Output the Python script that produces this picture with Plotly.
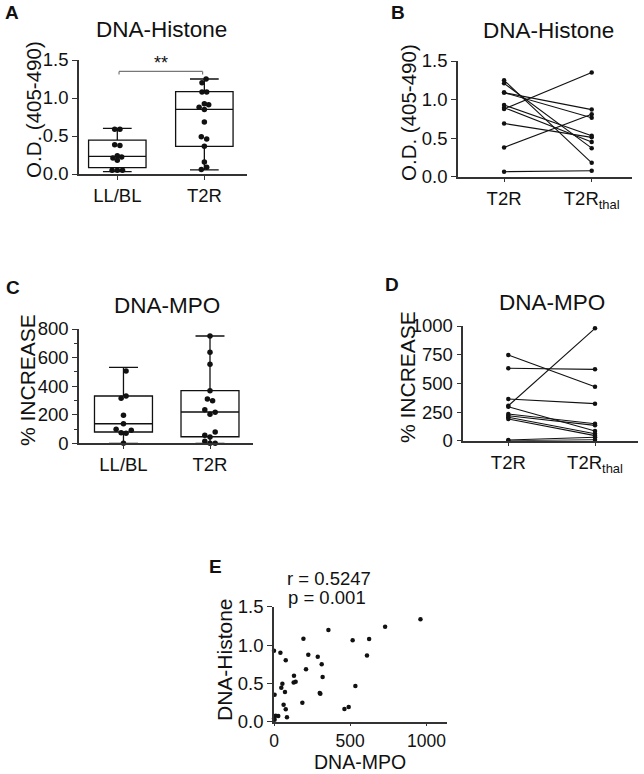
import plotly.graph_objects as go

# ---------------- data ----------------
groups_A = ["LL/BL", "T2R"]
A_llbl = [0.59, 0.59, 0.385, 0.375, 0.24, 0.225, 0.21, 0.18, 0.05, 0.05, 0.05]
A_t2r = [1.25, 1.20, 1.08, 1.08, 0.925, 0.91, 0.877, 0.85, 0.684, 0.49, 0.46, 0.364, 0.158, 0.088, 0.06]
A_q1 = [0.083, 0.364]
A_med = [0.233, 0.85]
A_q3 = [0.447, 1.083]
A_lo = [0.03, 0.053]
A_hi = [0.60, 1.25]
A_sig = "**"
A_sig_y = 1.35

C_llbl = [506, 315, 331, 196, 137, 98, 74, 70, 91, 0]
C_t2r = [751, 637, 553, 368, 310, 298, 235, 217, 203, 56, 79, 14, 44, 0, 0]
C_q1 = [79, 46]
C_med = [137, 219]
C_q3 = [331, 368]
C_lo = [0, 0]
C_hi = [532, 751]

groups_B = ["T2R", "T2R<sub>thal</sub>"]
B_t2r = [1.25, 1.21, 1.09, 1.09, 0.93, 0.895, 0.878, 0.69, 0.38, 0.065]
B_thal = [0.18, 0.37, 0.87, 0.765, 0.53, 0.45, 1.35, 0.51, 0.81, 0.078]

D_t2r = [747, 631, 363, 305, 296, 233, 218, 204, 189, 6, 0]
D_thal = [471, 622, 323, 980, 85, 148, 134, 61, 44, 30, 8]

E_mpo = [961, 729, 357, 193, 516, 624, 0, 42, 225, 287, 610, 77, 313, 210, 131, 319, 142, 129,
         55, 48, 534, 72, 300, 304, 4, 186, 63, 77, 462, 490, 85, 11, 28, 0, 4]
E_his = [1.335, 1.24, 1.196, 1.083, 1.061, 1.078, 0.926, 0.9, 0.874, 0.848, 0.865, 0.8, 0.748,
         0.683, 0.6, 0.583, 0.52, 0.51, 0.496, 0.443, 0.465, 0.387, 0.374, 0.365, 0.352, 0.248,
         0.222, 0.161, 0.165, 0.191, 0.057, 0.078, 0.074, 0.043, 0.026]
E_r = "r = 0.5247"
E_p = "p = 0.001"

# jitter (horizontal display offsets of dots within a box, in category units)
jit_A_llbl = [-0.03, 0.03, -0.03, 0.03, 0.0, 0.05, -0.05, 0.0, -0.06, 0.0, 0.06]
jit_A_t2r = [0.02, -0.027, -0.027, 0.027, 0.0, 0.05, -0.06, 0.0, 0.0, -0.035, 0.027, 0.0, 0.0, 0.027, -0.035]
jit_C_llbl = [0.03, -0.027, 0.03, 0.0, 0.0, -0.085, -0.027, 0.03, 0.09, 0.0]
jit_C_t2r = [0, 0, 0, 0, -0.03, 0.03, -0.06, 0.06, 0, -0.06, 0.06, -0.06, 0, 0.06, 0]

# ---------------- figure ----------------
W, H = 644, 774
FONT = "Arial, Liberation Sans, Helvetica, sans-serif"
BLACK = "#111111"

def px(x):
    return x / W

def py(y):
    return 1 - y / H

fig = go.Figure()

def add_box(xa, ya, i, q1, med, q3, lo, hi, width):
    fig.add_trace(go.Box(
        x=[i], q1=[q1], median=[med], q3=[q3], lowerfence=[lo], upperfence=[hi],
        width=width, whiskerwidth=0.5, boxpoints=False,
        fillcolor="white", line=dict(color=BLACK, width=1.3),
        xaxis=xa, yaxis=ya, showlegend=False, hoverinfo="skip"))

def add_dots(xa, ya, i, vals, jit, size):
    fig.add_trace(go.Scatter(
        x=[i + j for j in jit], y=vals, mode="markers",
        marker=dict(color=BLACK, size=size), cliponaxis=False,
        xaxis=xa, yaxis=ya, showlegend=False))

# Panel A
add_box("x", "y", 0, A_q1[0], A_med[0], A_q3[0], A_lo[0], A_hi[0], 0.66)
add_box("x", "y", 1, A_q1[1], A_med[1], A_q3[1], A_lo[1], A_hi[1], 0.66)
add_dots("x", "y", 0, A_llbl, jit_A_llbl, 5.5)
add_dots("x", "y", 1, A_t2r, jit_A_t2r, 5.5)

# Panel C
add_box("x3", "y3", 0, C_q1[0], C_med[0], C_q3[0], C_lo[0], C_hi[0], 0.67)
add_box("x3", "y3", 1, C_q1[1], C_med[1], C_q3[1], C_lo[1], C_hi[1], 0.67)
add_dots("x3", "y3", 0, C_llbl, jit_C_llbl, 5.5)
add_dots("x3", "y3", 1, C_t2r, jit_C_t2r, 5.5)

# Panel B paired lines
for a, b in zip(B_t2r, B_thal):
    fig.add_trace(go.Scatter(x=[0, 1], y=[a, b], mode="lines+markers",
                             line=dict(color=BLACK, width=1.1),
                             marker=dict(color=BLACK, size=4.5), cliponaxis=False,
                             xaxis="x2", yaxis="y2", showlegend=False))
# Panel D paired lines
for a, b in zip(D_t2r, D_thal):
    fig.add_trace(go.Scatter(x=[0, 1], y=[a, b], mode="lines+markers",
                             line=dict(color=BLACK, width=1.1),
                             marker=dict(color=BLACK, size=4.5), cliponaxis=False,
                             xaxis="x4", yaxis="y4", showlegend=False))
# Panel E scatter
fig.add_trace(go.Scatter(x=E_mpo, y=E_his, mode="markers",
                         marker=dict(color=BLACK, size=4.5), cliponaxis=False,
                         xaxis="x5", yaxis="y5", showlegend=False))

tickfont = dict(family=FONT, size=18.5, color=BLACK)
axcommon = dict(showgrid=False, zeroline=False, showline=True, linecolor="#333333",
                linewidth=1.5, ticks="outside", tickcolor="#333333", ticklen=5,
                tickwidth=1.3, tickfont=tickfont, fixedrange=True, automargin=False)

def cat_x(dom, rng, labels):
    return dict(domain=dom, range=rng, tickmode="array", tickvals=list(range(len(labels))),
                ticktext=labels, ticklen=4, **{k: v for k, v in axcommon.items() if k != "ticklen"})

e_x_common = {k: v for k, v in axcommon.items() if k not in ("ticklen", "tickfont")}

fig.update_layout(
    template="none",
    width=W, height=H, margin=dict(l=0, r=0, t=0, b=0, pad=0, autoexpand=False),
    paper_bgcolor="white", plot_bgcolor="white",
    font=dict(family=FONT, color=BLACK),
    xaxis=cat_x([px(79), px(247)], [-0.44, 1.49], groups_A),
    yaxis=dict(domain=[py(174), py(60)], range=[0, 1.5], tickvals=[0, 0.5, 1.0, 1.5],
               tickformat=".1f", anchor="x", **axcommon),
    xaxis2=dict(anchor="y2", **cat_x([px(458), px(632)], [-0.526, 1.46], groups_B)),
    yaxis2=dict(domain=[py(176.7), py(61)], range=[0, 1.5], tickvals=[0, 0.5, 1.0, 1.5],
                tickformat=".1f", anchor="x2", **axcommon),
    xaxis3=dict(anchor="y3", **cat_x([px(79), px(253)], [-0.514, 1.497], groups_A)),
    yaxis3=dict(domain=[py(443.3), py(329)], range=[0, 800], tickvals=[0, 200, 400, 600, 800],
                anchor="x3", minor=dict(tickvals=[100, 300, 500, 700], ticks="outside",
                                        ticklen=3, tickcolor="#333333"), **axcommon),
    xaxis4=dict(anchor="y4", **cat_x([px(463.3), px(638)], [-0.519, 1.496], groups_B)),
    yaxis4=dict(domain=[py(440.7), py(326)], range=[0, 1000], tickvals=[0, 250, 500, 750, 1000],
                anchor="x4", **axcommon),
    xaxis5=dict(domain=[px(274), px(447.3)], range=[0, 1137], tickvals=[0, 500, 1000],
                anchor="y5", ticklen=3, tickfont=dict(family=FONT, size=17.5, color=BLACK),
                **e_x_common),
    yaxis5=dict(domain=[py(721.7), py(606.7)], range=[0, 1.5], tickvals=[0, 0.5, 1.0, 1.5],
                tickformat=".1f", anchor="x5", **axcommon),
)

# significance bracket in A
fig.add_shape(type="line", xref="x", yref="y", x0=0.02, x1=0.98, y0=A_sig_y, y1=A_sig_y,
              line=dict(color="#777777", width=1.2))
for xv in (0.02, 0.98):
    fig.add_shape(type="line", xref="x", yref="y", x0=xv, x1=xv, y0=A_sig_y - 0.04, y1=A_sig_y,
                  line=dict(color="#777777", width=1.2))
fig.add_annotation(xref="x", yref="y", x=0.5, y=A_sig_y, text=A_sig, showarrow=False,
                   yanchor="bottom", font=dict(family=FONT, size=18, color=BLACK), yshift=-4)

def ann(text, x, y, size, bold=False, angle=0, xanchor="center"):
    fig.add_annotation(xref="paper", yref="paper", x=px(x), y=py(y), text=("<b>%s</b>" % text) if bold else text,
                       showarrow=False, xanchor=xanchor, yanchor="middle", textangle=angle,
                       font=dict(family=FONT, size=size, color=BLACK))

# panel letters
ann("A", 12, 13, 19, bold=True)
ann("B", 398, 12, 19, bold=True)
ann("C", 13, 287, 19, bold=True)
ann("D", 392, 284, 19, bold=True)
ann("E", 215, 566, 19, bold=True)
# titles
ann("DNA-Histone", 161, 30, 22.5)
ann("DNA-Histone", 548, 31, 22.5)
ann("DNA-MPO", 167, 305, 22.5)
ann("DNA-MPO", 552, 302, 22.5)
# axis titles (rotated)
ann("O.D. (405-490)", 33, 110, 20.5, angle=-90)
ann("O.D. (405-490)", 408, 113, 20.5, angle=-90)
ann("% INCREASE", 27, 380, 21, angle=-90)
ann("% INCREASE", 407, 377, 21, angle=-90)
ann("DNA-Histone", 224, 660, 21, angle=-90)
ann("DNA-MPO", 360, 762, 19.5)
# stats in E
ann(E_r, 285, 578, 18.5, xanchor="left")
ann(E_p, 286, 597, 18.5, xanchor="left")

fig.write_html("out.html", config={"displayModeBar": False},
               post_script="document.body.style.margin='0px';")
